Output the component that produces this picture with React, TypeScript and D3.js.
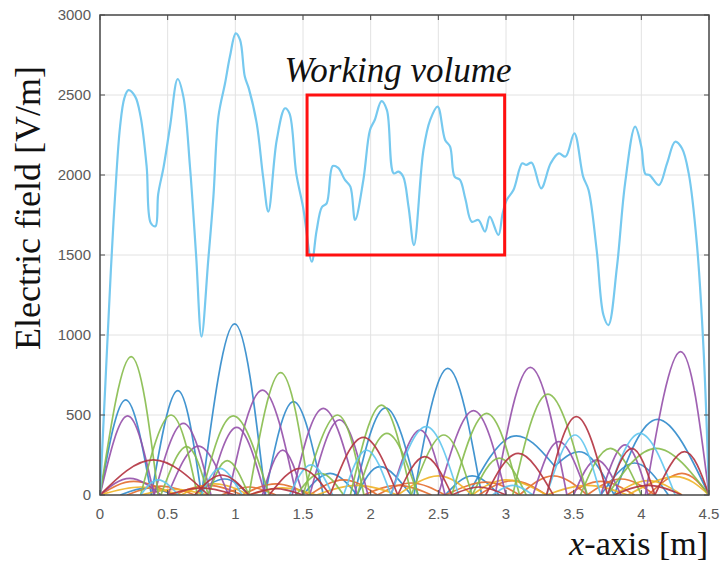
import React from "react";
import * as d3 from "d3";

// ---- data ----
const xTicks = [0, 0.5, 1, 1.5, 2, 2.5, 3, 3.5, 4, 4.5];
const xTickLabels = ["0", "0.5", "1", "1.5", "2", "2.5", "3", "3.5", "4", "4.5"];
const yTicks = [0, 500, 1000, 1500, 2000, 2500, 3000];
const yTickLabels = ["0", "500", "1000", "1500", "2000", "2500", "3000"];

// envelope (total field) – x [m]
const envX = [0, 0.04, 0.08, 0.11, 0.148, 0.18, 0.21, 0.26, 0.3, 0.345, 0.375, 0.41, 0.43, 0.47, 0.517, 0.574, 0.616, 0.665, 0.71, 0.75, 0.8, 0.838, 0.875, 0.924, 0.96, 1.003, 1.035, 1.07, 1.1, 1.158, 1.205, 1.244, 1.306, 1.367, 1.4, 1.45, 1.5, 1.565, 1.6, 1.64, 1.675, 1.72, 1.76, 1.81, 1.85, 1.885, 1.946, 1.995, 2.03, 2.08, 2.12, 2.17, 2.205, 2.24, 2.28, 2.32, 2.39, 2.44, 2.495, 2.55, 2.587, 2.62, 2.66, 2.7, 2.747, 2.796, 2.845, 2.88, 2.944, 2.975, 3.005, 3.055, 3.12, 3.15, 3.19, 3.26, 3.33, 3.39, 3.44, 3.505, 3.57, 3.61, 3.67, 3.72, 3.757, 3.82, 3.88, 3.954, 4.0, 4.03, 4.06, 4.13, 4.19, 4.25, 4.3, 4.35, 4.41, 4.46, 4.5];
// envelope – field [V/m]
const envY = [0, 700, 1400, 1850, 2300, 2480, 2530, 2490, 2365, 2050, 1700, 1680, 1880, 2050, 2300, 2600, 2490, 2050, 1500, 990, 1470, 1865, 2365, 2573, 2740, 2885, 2844, 2615, 2540, 2323, 1990, 1771, 2219, 2417, 2385, 2010, 1802, 1458, 1650, 1800, 1823, 2056, 2044, 1969, 1927, 1719, 1969, 2281, 2344, 2462, 2406, 2010, 2021, 1990, 1800, 1562, 2156, 2344, 2427, 2219, 2177, 1990, 1969, 1850, 1708, 1719, 1646, 1740, 1625, 1760, 1844, 1906, 2073, 2063, 2077, 1917, 2073, 2135, 2115, 2260, 1990, 1906, 1531, 1125, 1062, 1427, 1948, 2302, 2177, 2006, 2000, 1937, 2073, 2208, 2167, 2010, 1573, 906, 0];

// mode lobes: [xStart, xPeak, xEnd, peak, yStart?, yEnd?]
type Lobe = number[];
const blueLobes: Lobe[] = [
  [0, 0.19, 0.38, 595], [0.38, 0.575, 0.75, 652], [0.75, 0.995, 1.22, 1069], [1.22, 1.43, 1.65, 583],
  [1.88, 2.11, 2.35, 545], [2.32, 2.57, 2.82, 792], [3.8, 4.12, 4.5, 473],
  [1.5, 1.7, 1.9, 135], [1.9, 2.07, 2.3, 177], [2.72, 3.04, 3.36, 365, 0, 180], [3.36, 3.58, 3.8, 262, 180, 0],
  [0.7, 0.92, 1.1, 100], [2.55, 2.75, 2.95, 120], [3.7, 3.95, 4.2, 200], [0.15, 0.35, 0.55, 45],
];
const greenLobes: Lobe[] = [
  [0, 0.23, 0.43, 865], [0.3, 0.525, 0.72, 500], [0.45, 0.64, 0.8, 302], [0.75, 0.985, 1.25, 494],
  [0.8, 0.94, 1.1, 215], [1.1, 1.335, 1.55, 765], [1.5, 1.754, 1.95, 500], [1.45, 1.63, 1.8, 135],
  [1.85, 2.08, 2.3, 562], [1.9, 2.12, 2.35, 385], [2.3, 2.54, 2.75, 375], [2.6, 2.857, 3.1, 510],
  [3.05, 3.31, 3.6, 631], [3.55, 3.77, 4.0, 292], [3.75, 4.11, 4.5, 292], [2.75, 2.95, 3.15, 230],
];
const purpleLobes: Lobe[] = [
  [0, 0.204, 0.4, 494], [0.4, 0.616, 0.82, 448], [0.5, 0.727, 0.95, 306], [0.8, 1.01, 1.22, 423],
  [0.95, 1.2, 1.45, 656], [1.2, 1.35, 1.5, 281], [1.42, 1.65, 1.9, 542], [1.55, 1.77, 1.98, 469],
  [2.15, 2.365, 2.55, 406], [2.5, 2.76, 3.0, 527], [2.92, 3.18, 3.45, 798], [3.2, 3.39, 3.6, 333],
  [3.7, 3.88, 4.05, 313], [4.03, 4.29, 4.5, 896], [0, 0.22, 0.45, 104], [3.5, 3.67, 3.85, 220],
];
const redLobes: Lobe[] = [
  [0, 0.394, 0.8, 219], [0.7, 0.9, 1.1, 125], [1.25, 1.48, 1.7, 167], [1.7, 1.946, 2.2, 360],
  [2.2, 2.4, 2.6, 240], [2.85, 3.09, 3.35, 260], [3.3, 3.52, 3.75, 490], [3.75, 3.93, 4.1, 292],
  [4.1, 4.32, 4.5, 271], [0.5, 0.75, 1.0, 45], [1.1, 1.3, 1.5, 40], [2.6, 2.8, 3.0, 50], [3.8, 4.05, 4.3, 60],
];
const cyanLobes: Lobe[] = [
  [0.75, 0.887, 1.05, 167], [0.3, 0.43, 0.58, 95], [1.4, 1.56, 1.72, 188], [1.8, 1.97, 2.15, 281],
  [2.15, 2.41, 2.65, 427], [3.3, 3.51, 3.7, 375], [3.75, 3.99, 4.25, 385], [2.9, 3.05, 3.2, 60],
];
const orangeLobes: Lobe[] = [
  [0, 0.25, 0.55, 85], [0.2, 0.45, 0.7, 55], [0.55, 0.8, 1.05, 60], [0.9, 1.1, 1.3, 50],
  [1.05, 1.3, 1.55, 70], [1.55, 1.8, 2.05, 95], [1.95, 2.2, 2.45, 60], [2.05, 2.3, 2.55, 75],
  [2.55, 2.85, 3.1, 80], [2.8, 3.05, 3.3, 90], [3.1, 3.35, 3.6, 120], [3.45, 3.7, 3.95, 85],
  [3.6, 3.85, 4.1, 100], [4.05, 4.3, 4.5, 135],
];
const yellowLobes: Lobe[] = [
  [0, 0.3, 0.6, 50], [0.3, 0.55, 0.8, 35], [0.6, 0.85, 1.1, 70], [1.1, 1.35, 1.6, 45],
  [1.6, 1.9, 2.2, 60], [2.2, 2.5, 2.75, 120], [2.75, 3.0, 3.3, 95], [3.3, 3.6, 3.9, 60],
  [3.8, 4.05, 4.3, 90], [3.9, 4.25, 4.5, 115],
];

const workingBox = { x0: 1.53, x1: 2.99, y0: 1500, y1: 2500 };

const W = 727, H = 566;
const M = { left: 100, right: 709, top: 15, bottom: 495 };
const SERIF = "'Liberation Serif', 'Times New Roman', Times, serif";
const SANS = "'Liberation Sans', Arial, Helvetica, sans-serif";

export default function App() {
  const x = d3.scaleLinear().domain([0, 4.5]).range([M.left, M.right]);
  const y = d3.scaleLinear().domain([0, 3000]).range([M.bottom, M.top]);

  const lobeLine = d3.line<[number, number]>().x(d => x(d[0])).y(d => y(d[1])).curve(d3.curveNatural);
  const lobePath = (l: Lobe) => {
    const pts: [number, number][] = [[l[0], l[4] ?? 0], [l[1], l[3]], [l[2], l[5] ?? 0]];
    return lobeLine(pts) || "";
  };
  const envLine = d3.line<number>().x((_, i) => x(envX[i])).y(d => y(d)).curve(d3.curveCatmullRom.alpha(0.5));

  const groups: [Lobe[], string][] = [
    [blueLobes, "#2f8acb"],
    [orangeLobes, "#e36b2d"],
    [yellowLobes, "#efb326"],
    [purpleLobes, "#9550aa"],
    [greenLobes, "#86bb4b"],
    [cyanLobes, "#5fc5ee"],
    [redLobes, "#b3323f"],
  ];

  return (
    <svg width={W} height={H} style={{ display: "block", position: "absolute", left: 0, top: 0 }}>
      <rect x={0} y={0} width={W} height={H} fill="#fff" />
      {/* grid */}
      {xTicks.map(t => (
        <line key={"gx" + t} x1={x(t)} x2={x(t)} y1={M.top} y2={M.bottom} stroke="#e2e2e2" strokeWidth={1} />
      ))}
      {yTicks.map(t => (
        <line key={"gy" + t} x1={M.left} x2={M.right} y1={y(t)} y2={y(t)} stroke="#e2e2e2" strokeWidth={1} />
      ))}
      <defs>
        <clipPath id="plotclip">
          <rect x={M.left} y={M.top} width={M.right - M.left} height={M.bottom - M.top} />
        </clipPath>
      </defs>
      <g clipPath="url(#plotclip)">
        {groups.map(([lobes, col], gi) =>
          lobes.map((l, i) => (
            <path key={gi + "-" + i} d={lobePath(l)} fill="none" stroke={col} strokeWidth={1.7} strokeOpacity={0.9} />
          ))
        )}
        <path d={envLine(envY) || ""} fill="none" stroke="#76c9ef" strokeWidth={2.2} />
      </g>
      {/* axes box */}
      <rect x={M.left} y={M.top} width={M.right - M.left} height={M.bottom - M.top} fill="none" stroke="#4a4a4a" strokeWidth={1.5} />
      {xTicks.map(t => (
        <g key={"tx" + t}>
          <line x1={x(t)} x2={x(t)} y1={M.bottom} y2={M.bottom - 5} stroke="#4a4a4a" />
          <line x1={x(t)} x2={x(t)} y1={M.top} y2={M.top + 5} stroke="#4a4a4a" />
        </g>
      ))}
      {yTicks.map(t => (
        <g key={"ty" + t}>
          <line x1={M.left} x2={M.left + 5} y1={y(t)} y2={y(t)} stroke="#4a4a4a" />
          <line x1={M.right} x2={M.right - 5} y1={y(t)} y2={y(t)} stroke="#4a4a4a" />
        </g>
      ))}
      {xTicks.map((t, i) => (
        <text key={"lx" + t} x={x(t)} y={519} textAnchor="middle" fontFamily={SANS} fontSize={15} fill="#5a5a5a">
          {xTickLabels[i]}
        </text>
      ))}
      {yTicks.map((t, i) => (
        <text key={"ly" + t} x={91} y={y(t) + 5} textAnchor="end" fontFamily={SANS} fontSize={15} fill="#5a5a5a">
          {yTickLabels[i]}
        </text>
      ))}
      {/* working volume box */}
      <rect x={x(workingBox.x0)} y={y(workingBox.y1)} width={x(workingBox.x1) - x(workingBox.x0)} height={y(workingBox.y0) - y(workingBox.y1)} fill="none" stroke="#ff1010" strokeWidth={3} />
      <text x={398} y={82} textAnchor="middle" fontFamily={SERIF} fontStyle="italic" fontSize={35} fill="#111">
        Working volume
      </text>
      {/* axis labels */}
      <text transform={`translate(40,208) rotate(-90)`} textAnchor="middle" fontFamily={SERIF} fontSize={36} fill="#111">
        Electric field [V/m]
      </text>
      <text x={708} y={555} textAnchor="end" fontFamily={SERIF} fontSize={34} fill="#111">
        <tspan fontStyle="italic">x</tspan>-axis [m]
      </text>
    </svg>
  );
}
